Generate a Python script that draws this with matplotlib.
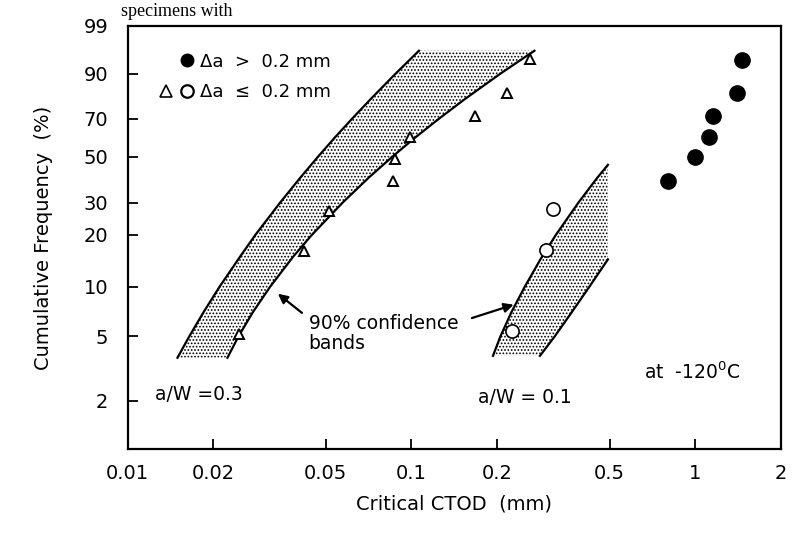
import numpy as np
import matplotlib.pyplot as plt
from matplotlib.lines import Line2D
from matplotlib.legend_handler import HandlerTuple

plt.rcParams['font.family'] = 'DejaVu Sans'
plt.rcParams['hatch.linewidth'] = 0.8

# a/W = 0.3 specimens (open triangles)
ctod_03 = [0.0247, 0.0417, 0.0514, 0.0862, 0.0878, 0.0991, 0.167, 0.218, 0.263]
freq_03 = [5.2, 16.3, 27.0, 38.7, 49.0, 60.4, 71.1, 82.5, 94.2]

# a/W = 0.1 specimens, delta a <= 0.2 mm (open circles)
ctod_01_small = [0.226, 0.298, 0.316]
freq_01_small = [5.4, 16.5, 27.8]

# a/W = 0.1 specimens, delta a > 0.2 mm (filled circles)
ctod_01_large = [0.80, 0.996, 1.12, 1.16, 1.40, 1.466]
freq_01_large = [38.8, 49.8, 60.3, 71.3, 82.4, 94.1]

# 90% confidence band, a/W = 0.3
band03_freq = [3.7, 5, 7, 10, 15, 20, 30, 40, 50, 60, 70, 80, 90, 96]
band03_left = [0.0150, 0.0165, 0.0185, 0.0211, 0.0249, 0.0282, 0.0345, 0.0406,
               0.0469, 0.0538, 0.0619, 0.0722, 0.0879, 0.1064]
band03_right = [0.0225, 0.0246, 0.0276, 0.0318, 0.0383, 0.0446, 0.0573, 0.0707,
                0.0857, 0.1033, 0.1253, 0.1553, 0.2056, 0.2716]

# 90% confidence band, a/W = 0.1 (right bound is cut off at 14.5 %)
band01_freq = [3.8, 5, 7, 10, 14.5, 20, 30, 40, 46]
band01_left = [0.194, 0.206, 0.225, 0.251, 0.285, 0.323, 0.388, 0.452, 0.493]
band01_right = [0.284, 0.320, 0.367, 0.424, 0.493, 0.493, 0.493, 0.493, 0.493]
band01_right_n = 5

y_ticks = [2, 5, 10, 20, 30, 50, 70, 90, 99]
x_ticks = [0.01, 0.02, 0.05, 0.1, 0.2, 0.5, 1, 2]
x_labels = ['0.01', '0.02', '0.05', '0.1', '0.2', '0.5', '1', '2']


def weibull(p):
    p = np.clip(np.asarray(p, dtype=float), 1e-6, 100 - 1e-6) / 100.0
    return np.log(-np.log(1 - p))


def weibull_inv(w):
    return 100.0 * (1 - np.exp(-np.exp(w)))


fig = plt.figure(figsize=(8.05, 5.37), dpi=100)
ax = fig.add_axes([0.1584, 0.1639, 0.8112, 0.7877])
ax.set_xscale('log')
ax.set_yscale('function', functions=(weibull, weibull_inv))

# shaded confidence bands
ax.fill_betweenx(band03_freq, band03_left, band03_right, facecolor='white',
                 edgecolor='black', hatch='.....', linewidth=0)
ax.fill_betweenx(band01_freq, band01_left, band01_right, facecolor='white',
                 edgecolor='black', hatch='.....', linewidth=0)
ax.plot(band03_left, band03_freq, color='black', lw=1.6)
ax.plot(band03_right, band03_freq, color='black', lw=1.6)
ax.plot(band01_left, band01_freq, color='black', lw=1.6)
ax.plot(band01_right[:band01_right_n], band01_freq[:band01_right_n], color='black', lw=1.6)

# data points
ax.plot(ctod_03, freq_03, linestyle='none', marker='^', markersize=7,
        markerfacecolor='white', markeredgecolor='black', markeredgewidth=1.4)
ax.plot(ctod_01_small, freq_01_small, linestyle='none', marker='o', markersize=9.5,
        markerfacecolor='white', markeredgecolor='black', markeredgewidth=1.2)
ax.plot(ctod_01_large, freq_01_large, linestyle='none', marker='o', markersize=11,
        color='black')

# legend
blank = Line2D([], [], linestyle='none')
dot = Line2D([], [], linestyle='none', marker='o', markersize=9, color='black')
tri = Line2D([], [], linestyle='none', marker='^', markersize=8,
             markerfacecolor='white', markeredgecolor='black', markeredgewidth=1.2)
circ = Line2D([], [], linestyle='none', marker='o', markersize=9,
              markerfacecolor='white', markeredgecolor='black', markeredgewidth=1.6)
ax.legend([(blank, dot), (tri, circ)], ['\u0394a  >  0.2 mm', '\u0394a  \u2264  0.2 mm'],
          handler_map={tuple: HandlerTuple(ndivide=None, pad=0.1)},
          loc='upper left', bbox_to_anchor=(0.02, 0.975), frameon=False,
          fontsize=13, handlelength=2.2, handletextpad=0.2, labelspacing=0.7)

# annotations
ax.text(0.0125, 2.2, 'a/W =0.3', fontsize=13.5, va='center', ha='left')
ax.text(0.172, 2.1, 'a/W = 0.1', fontsize=13.5, va='center', ha='left')
ax.text(0.66, 3.0, 'at  -120$^{0}$C', fontsize=13.5, va='center', ha='left')
ax.text(0.0435, 5.2, '90% confidence\nbands', fontsize=13.5, va='center', ha='left',
        linespacing=1.1)
ax.annotate('', xy=(0.0333, 9.3), xytext=(0.0419, 6.8),
            arrowprops=dict(arrowstyle='-|>', color='black', lw=1.6, mutation_scale=14))
ax.annotate('', xy=(0.2344, 7.9), xytext=(0.160, 6.4),
            arrowprops=dict(arrowstyle='-|>', color='black', lw=1.6, mutation_scale=14))

ax.set_xlim(0.01, 2)
ax.set_ylim(1, 99)
ax.set_xticks(x_ticks)
ax.set_xticklabels(x_labels)
ax.set_yticks(y_ticks)
ax.set_yticklabels([str(v) for v in y_ticks])
ax.minorticks_off()
ax.tick_params(direction='in', length=7, width=1.3, labelsize=14)
ax.tick_params(axis='x', pad=11)
ax.tick_params(axis='y', pad=14)
for s in ax.spines.values():
    s.set_linewidth(1.6)

ax.set_xlabel('Critical CTOD  (mm)', fontsize=14, labelpad=8)
ax.set_ylabel('Cumulative Frequency  (%)', fontsize=14, labelpad=22)

fig.text(0.15, 0.978, 'specimens with', family='Liberation Serif', fontsize=13,
         va='center', ha='left')

plt.savefig('out.png', dpi=100)
